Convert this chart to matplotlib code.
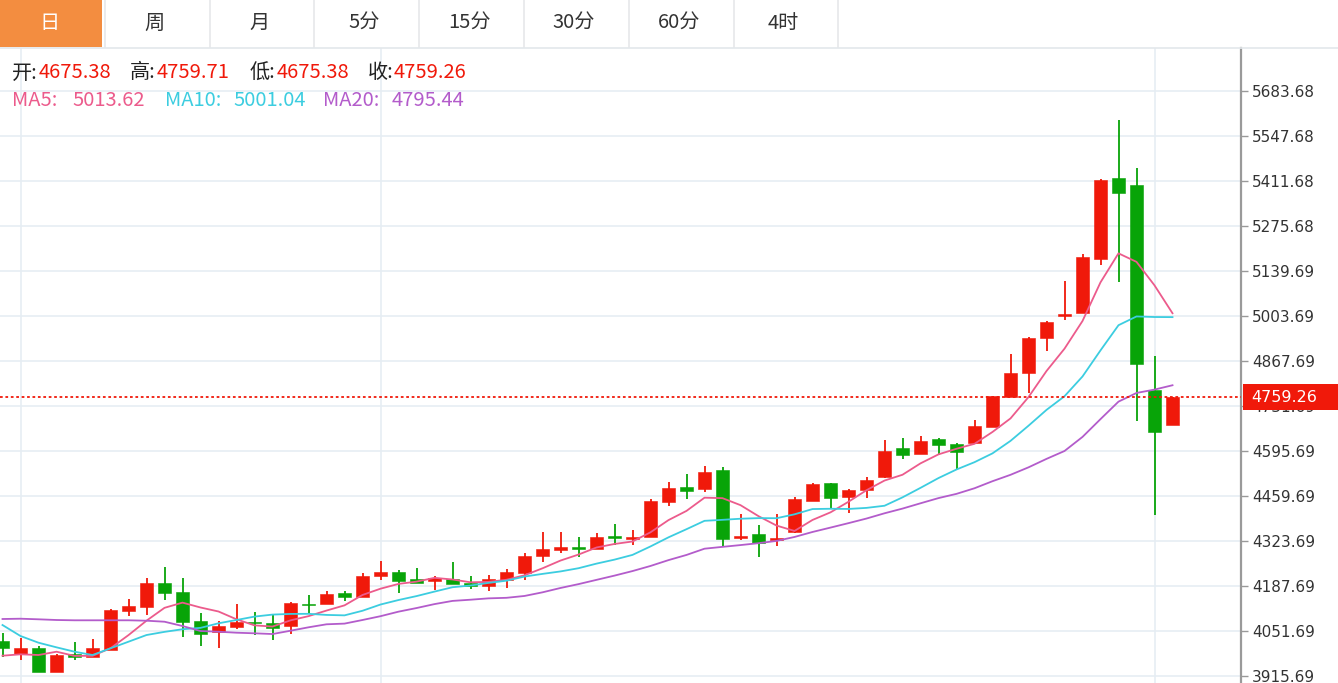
import numpy as np
import pandas as pd
import matplotlib
matplotlib.use("Agg")
import matplotlib.pyplot as plt
from matplotlib.patches import Rectangle

plt.rcParams['font.family'] = ['Noto Sans CJK SC', 'DejaVu Sans']

W, H = 1338, 683

tabs = ["日", "周", "月", "5分", "15分", "30分", "60分", "4时"]

opens = [4021.5, 3983.1, 4001.2, 3928.7, 3982.2, 3974.0, 3994.3, 4112.2, 4124.2, 4196.8,
         4170.5, 4081.9, 4048.7, 4064.7, 4078.9, 4075.9, 4066.8, 4133.3, 4132.4, 4166.6,
         4155.4, 4218.8, 4230.9, 4208.9, 4202.8, 4208.9, 4196.8, 4187.7, 4205.8, 4227.0,
         4279.3, 4296.5, 4306.5, 4299.5, 4339.7, 4329.8, 4336.7, 4442.5, 4486.9, 4480.9,
         4538.3, 4331.9, 4344.9, 4326.7, 4350.9, 4445.5, 4499.9, 4457.6, 4477.8, 4517.1,
         4604.8, 4586.6, 4632.0, 4618.4, 4620.8, 4669.2, 4759.8, 4830.5, 4938.1, 5003.7,
         5013.7, 5176.0, 5421.7, 5398.7, 4780.1, 4675.38]
highs = [4045.7, 4030.6, 4006.4, 3982.2, 4019.4, 4027.5, 4118.0, 4148.4, 4211.9, 4246.0,
         4211.9, 4106.1, 4081.9, 4133.3, 4110.0, 4103.1, 4139.3, 4160.5, 4172.6, 4173.5,
         4227.9, 4264.2, 4236.1, 4242.1, 4218.8, 4260.2, 4217.9, 4221.0, 4239.1, 4287.4,
         4351.8, 4350.9, 4335.8, 4347.9, 4375.1, 4357.0, 4450.6, 4502.0, 4526.2, 4550.4,
         4548.3, 4405.3, 4372.1, 4405.3, 4456.7, 4499.0, 4499.9, 4480.9, 4517.1, 4629.0,
         4635.0, 4642.0, 4635.0, 4620.8, 4689.4, 4762.8, 4888.9, 4941.1, 4989.5, 5109.5,
         5190.2, 5417.8, 5596.1, 5450.1, 4883.7, 4759.71]
lows = [3973.1, 3964.1, 3927.7, 3928.0, 3964.1, 3974.0, 3994.3, 4097.0, 4100.1, 4145.4,
        4033.6, 4007.3, 4000.3, 4057.8, 4039.6, 4024.5, 4042.6, 4107.0, 4132.4, 4143.3,
        4155.4, 4205.8, 4166.6, 4196.8, 4175.6, 4193.8, 4178.6, 4172.6, 4182.6, 4205.8,
        4260.2, 4287.4, 4275.4, 4299.5, 4311.6, 4311.6, 4336.7, 4430.4, 4450.6, 4472.7,
        4306.5, 4326.7, 4276.3, 4309.5, 4347.9, 4445.5, 4423.4, 4409.2, 4453.7, 4514.1,
        4571.5, 4586.6, 4583.6, 4541.3, 4620.8, 4669.2, 4759.8, 4771.9, 4898.8, 4991.6,
        5013.7, 5157.8, 5105.6, 4687.3, 4402.3, 4675.38]
closes = [4000.3, 4001.2, 3928.7, 3979.2, 3973.1, 4001.2, 4116.1, 4127.3, 4196.8, 4167.5,
          4079.8, 4042.6, 4066.8, 4078.9, 4075.9, 4061.7, 4136.3, 4130.3, 4163.5, 4154.5,
          4218.8, 4230.9, 4202.8, 4197.7, 4211.9, 4193.8, 4188.6, 4208.9, 4230.0, 4279.3,
          4299.5, 4305.6, 4299.5, 4336.7, 4332.8, 4336.7, 4444.6, 4483.9, 4475.7, 4532.2,
          4329.8, 4338.8, 4317.7, 4333.7, 4450.6, 4496.0, 4453.7, 4477.8, 4508.1, 4596.6,
          4583.6, 4625.9, 4613.8, 4592.7, 4671.3, 4762.8, 4830.5, 4936.3, 4986.5, 5008.8,
          5181.1, 5414.7, 5374.5, 4857.7, 4654.0, 4759.26]

# moving averages at the left edge depend on days before the window
ma5_head = [3977.1, 3981.3, 3979.2, 3989.2]
ma10_head = [4069.8, 4036.6, 4016.4, 4002.4, 3989.2, 3979.2, 3999.4, 4019.4, 4039.6]
ma20_head = [4088.0, 4088.9, 4087.1, 4085.0, 4084.1, 4084.1, 4084.1, 4084.1, 4082.9, 4079.8,
             4066.8, 4051.7, 4049.6, 4046.6, 4044.8, 4042.6, 4052.6, 4062.9, 4072.0]

y_ticks = [3915.69, 4051.69, 4187.69, 4323.69, 4459.69, 4595.69, 4731.69,
           4867.69, 5003.69, 5139.69, 5275.68, 5411.68, 5547.68, 5683.68]
y_labels = ["3915.69", "4051.69", "4187.69", "4323.69", "4459.69", "4595.69", "4731.69",
            "4867.69", "5003.69", "5139.69", "5275.68", "5411.68", "5547.68", "5683.68"]
month_starts = [1, 21, 64]

info_labels = ["开:", "高:", "低:", "收:"]
info_values = ["4675.38", "4759.71", "4675.38", "4759.26"]
ma_names = ["MA5:", "MA10:", "MA20:"]
ma_values = ["5013.62", "5001.04", "4795.44"]

RED = '#F0190A'
GREEN = '#08A408'
MA_COLORS = ['#EC5B8C', '#3CCDE0', '#B35CCB']
ORANGE = '#F38D40'
GRID = '#E6EDF3'


def moving_average(head, n):
    full = pd.Series(closes).rolling(n).mean().to_numpy()
    full[:len(head)] = head
    return full


fig = plt.figure(figsize=(W / 100, H / 100), dpi=100)
ax = fig.add_axes([0, 0, 1241 / W, 635 / H])
ax.set_xlim(-2.5 / 18, (1241 - 2.5) / 18)
ax.set_ylim(3894.6, 5813.7)

x = np.arange(len(closes))
o = np.array(opens)
c = np.array(closes)
up = c >= o
colors = np.where(up, RED, GREEN)

for k in month_starts:
    ax.axvline(k, color=GRID, lw=1.2, zorder=0)

ax.vlines(x, lows, highs, colors=colors, lw=1.3, zorder=2)
body = np.maximum(np.abs(c - o), 2.5)
ax.bar(x, body, bottom=np.minimum(o, c), width=0.74, color=colors,
       edgecolor=colors, lw=0.4, zorder=3)

for head, n, col in zip([ma5_head, ma10_head, ma20_head], [5, 10, 20], MA_COLORS):
    ax.plot(x, moving_average(head, n), color=col, lw=1.3, zorder=4)

ax.axhline(closes[-1], color=RED, lw=1.3, ls=(0, (1.5, 1.5)), zorder=5)

ax.set_yticks(y_ticks, y_labels)
ax.grid(axis='y', color=GRID, lw=1.2)
ax.set_axisbelow(True)
ax.yaxis.tick_right()
ax.tick_params(axis='y', length=5, width=1, color='#999999', labelsize=11,
               labelcolor='#333333', pad=3)
for lbl in ax.get_yticklabels():
    lbl.set_fontfamily('DejaVu Sans')
ax.set_xticks([])
for side in ['top', 'left', 'bottom']:
    ax.spines[side].set_visible(False)
ax.spines['right'].set_color('#9A9A9A')
ax.spines['right'].set_linewidth(1.6)

# overlay in pixel coordinates for the tab bar, legend and price tag
ov = fig.add_axes([0, 0, 1, 1], zorder=10)
ov.set_xlim(0, W)
ov.set_ylim(H, 0)
ov.axis('off')

tab_w = 104.8
ov.add_patch(Rectangle((0, 0), tab_w - 2.5, 47, color=ORANGE, lw=0))
for i, t in enumerate(tabs):
    ov.text((i + 0.5) * tab_w - 2.5, 23, t, ha='center', va='center', fontsize=14.5,
            color='white' if i == 0 else '#333333')
    ov.plot([(i + 1) * tab_w, (i + 1) * tab_w], [0, 47], color='#E6E8EA', lw=1.2)
ov.plot([0, W], [47.5, 47.5], color='#E3E7EB', lw=1.2)

label_x = [12, 130, 250, 368]
value_x = [39, 157, 277, 394]
for lx, vx, lab, val in zip(label_x, value_x, info_labels, info_values):
    ov.text(lx, 73, lab, ha='left', va='center', fontsize=14.5, color='#222222')
    ov.text(vx, 73, val, ha='left', va='center', fontsize=14.5, color=RED)

name_x = [12, 165, 323]
num_x = [72, 233, 392]
for nx, vx, name, val, col in zip(name_x, num_x, ma_names, ma_values, MA_COLORS):
    ov.text(nx, 100, name, ha='left', va='center', fontsize=14.5, color=col)
    ov.text(vx, 100, val, ha='left', va='center', fontsize=14.5, color=col)

ov.add_patch(Rectangle((1243, 384), W - 1243, 26, color=RED, lw=0))
ov.text(1251, 397.5, f"{closes[-1]:.2f}", ha='left', va='center', fontsize=11.5,
        color='white', family='DejaVu Sans')

fig.savefig('out.png', dpi=100)
